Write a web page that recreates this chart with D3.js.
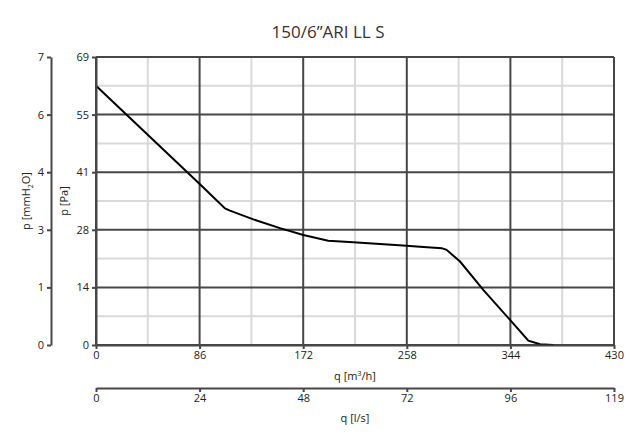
<!DOCTYPE html>
<html><head><meta charset="utf-8">
<script src="https://cdn.jsdelivr.net/npm/d3@7"></script>
<style>body{margin:0;background:#fff}svg{display:block}text{font-family:"Open Sans",sans-serif}</style>
</head><body><svg id="c" width="644" height="443"></svg>
<script>
const title = "150/6”ARI LL S";
const flowM3h = [0, 86.3, 107.1, 111.2, 130.6, 152.7, 172.1, 192.8, 213.6, 257.9, 268.9, 287, 291, 302.2, 321.5, 343.7, 358.9, 368.6, 379.6];
const pressPa = [62.1, 38.5, 32.7, 32.2, 30.1, 28.0, 26.35, 25.0, 24.6, 23.8, 23.55, 23.2, 22.8, 20.0, 13.2, 6.0, 1.04, 0.17, 0];
const xTicksM3h = [0, 86, 172, 258, 344, 430];
const xTickLabelsLs = ["0", "24", "48", "72", "96", "119"];
const yTickLabelsPa = ["0", "14", "28", "41", "55", "69"];
const yTickLabelsMm = ["0", "1", "3", "4", "6", "7"];

const svg = d3.select("#c");
const L = 96, R = 614, T = 57, B = 345;
const x = d3.scaleLinear().domain([0, 430]).range([L, R]);
const y = d3.scaleLinear().domain([0, 69]).range([B, T]);
const yTicks = d3.range(6).map(i => i * 69 / 5);
const xMinor = d3.range(5).map(i => 43 + i * 86);
const yMinor = d3.range(5).map(i => 6.9 + i * 13.8);

const dark = "#474747", light = "#d9d9d9";
const g = svg.append("g");
g.selectAll(".mx").data(xMinor).join("line").attr("x1", d => x(d)).attr("x2", d => x(d)).attr("y1", T).attr("y2", B).attr("stroke", light).attr("stroke-width", 2);
g.selectAll(".my").data(yMinor).join("line").attr("x1", L).attr("x2", R).attr("y1", d => y(d)).attr("y2", d => y(d)).attr("stroke", light).attr("stroke-width", 2);
g.selectAll(".Mx").data(xTicksM3h).join("line").attr("x1", d => x(d)).attr("x2", d => x(d)).attr("y1", T).attr("y2", B).attr("stroke", dark).attr("stroke-width", 2);
g.selectAll(".My").data(yTicks).join("line").attr("x1", L).attr("x2", R).attr("y1", d => y(d)).attr("y2", d => y(d)).attr("stroke", dark).attr("stroke-width", 2);

// Curve
const pts = flowM3h.map((q, i) => [q, pressPa[i]]);
svg.append("path").datum(pts).attr("fill", "none").attr("stroke", "#000").attr("stroke-width", 2)
  .attr("d", d3.line().x(d => x(d[0])).y(d => y(d[1])));

function styleAxis(sel) {
  sel.selectAll("path,line").attr("stroke", dark).attr("stroke-width", 2);
  sel.selectAll("text").attr("fill", "#222").style("font-size", "11px");
}
// Pa axis
const aPa = svg.append("g").attr("transform", `translate(${L},0)`)
  .call(d3.axisLeft(y).tickValues(yTicks).tickFormat((d, i) => yTickLabelsPa[i]).tickSize(4).tickSizeOuter(0).tickPadding(3));
styleAxis(aPa);
// mmH2O axis
const aMm = svg.append("g").attr("transform", `translate(51,0)`)
  .call(d3.axisLeft(y).tickValues(yTicks).tickFormat((d, i) => yTickLabelsMm[i]).tickSize(4).tickSizeOuter(0).tickPadding(3));
styleAxis(aMm);
// m3/h axis
const aX = svg.append("g").attr("transform", `translate(0,${B})`)
  .call(d3.axisBottom(x).tickValues(xTicksM3h).tickSize(4).tickSizeOuter(0).tickPadding(2));
styleAxis(aX);
// l/s axis
const aX2 = svg.append("g").attr("transform", `translate(0,388)`)
  .call(d3.axisBottom(x).tickValues(xTicksM3h).tickFormat((d, i) => xTickLabelsLs[i]).tickSize(4).tickSizeOuter(0).tickPadding(2));
styleAxis(aX2);

// labels
const lab = svg.append("g").attr("fill", "#222").style("font-size", "11px");
lab.append("text").attr("x", 355).attr("y", 380).attr("text-anchor", "middle").html('q [m<tspan dy="-4" font-size="7px">3</tspan><tspan dy="4">/h]</tspan>');
lab.append("text").attr("x", 355).attr("y", 422).attr("text-anchor", "middle").text("q [l/s]");
lab.append("text").attr("transform", "translate(68,201) rotate(-90)").attr("text-anchor", "middle").text("p [Pa]");
lab.append("text").attr("transform", "translate(30,201) rotate(-90)").attr("text-anchor", "middle").html('p [mmH<tspan dy="3" font-size="7px">2</tspan><tspan dy="-3">O]</tspan>');

svg.append("text").attr("x", 328).attr("y", 38).attr("text-anchor", "middle").attr("fill", "#333")
  .style("font-size", "17px").style("font-weight", 400).text(title);
</script></body></html>
